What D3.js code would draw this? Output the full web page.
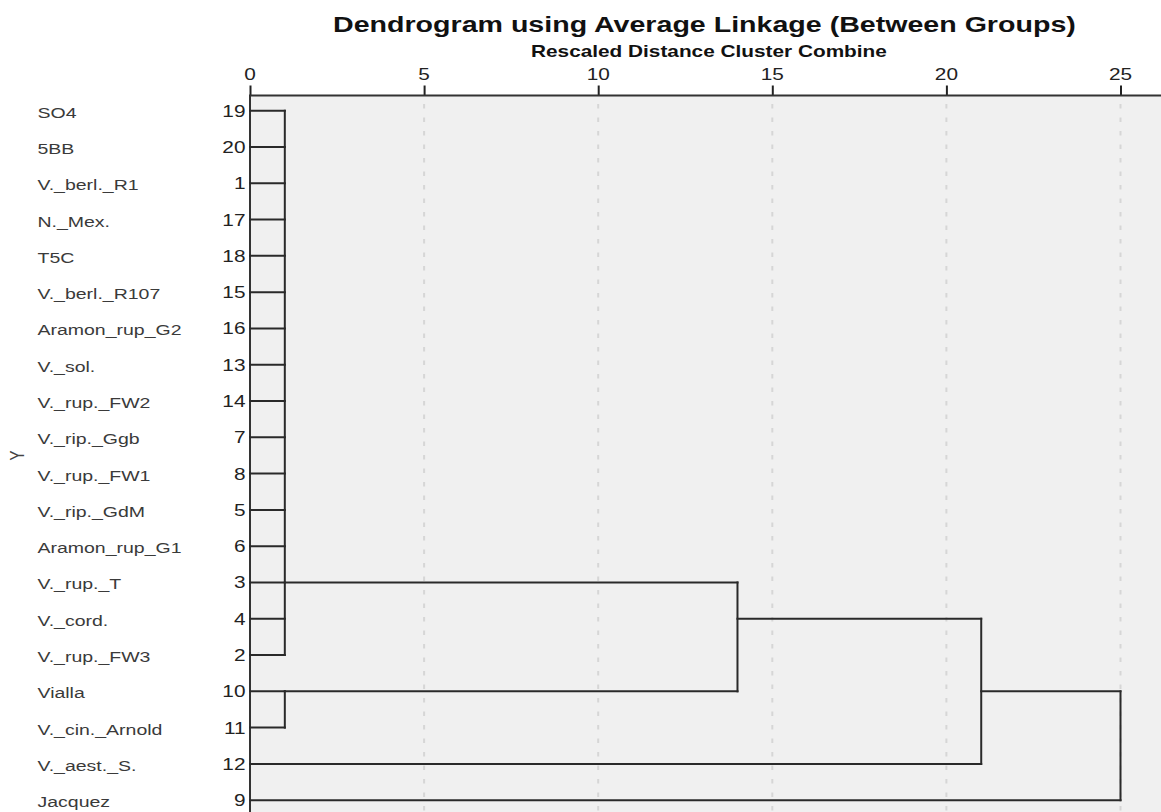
<!DOCTYPE html>
<html>
<head>
<meta charset="utf-8">
<script src="https://cdn.jsdelivr.net/npm/d3@7"></script>
<style>
  html, body { margin: 0; padding: 0; background: #fff; }
  svg { display: block; font-family: "Liberation Sans", Arial, sans-serif; }
</style>
</head>
<body>
<svg id="chart" width="1161" height="812"></svg>
<script>
// ---- data ----
const labels = ["SO4","5BB","V._berl._R1","N._Mex.","T5C","V._berl._R107","Aramon_rup_G2","V._sol.","V._rup._FW2","V._rip._Ggb","V._rup._FW1","V._rip._GdM","Aramon_rup_G1","V._rup._T","V._cord.","V._rup._FW3","Vialla","V._cin._Arnold","V._aest._S.","Jacquez"];
const caseNumbers = [19,20,1,17,18,15,16,13,14,7,8,5,6,3,4,2,10,11,12,9];
const tickValues = [0,5,10,15,20,25];
const clusterNames = ["A","B","C","D","E"];
const clusterChildren = [
  [0,1,2,3,4,5,6,7,8,9,10,11,12,13,14,15],
  [16,17],
  ["A","B"],
  ["C",18],
  ["D",19]
];
const clusterHeights = [1, 1, 14, 21, 25];
const clusterRows = [13, 16, 14, 16, 16];
const titleText = "Dendrogram using Average Linkage (Between Groups)";
const subtitleText = "Rescaled Distance Cluster Combine";
const axisTitle = "Y";

// ---- layout ----
const W = 1161, H = 812;
const plotLeft = 250, plotTop = 95.5;
const SX = 1.3; // horizontal text stretch
const svg = d3.select("#chart");

const x = d3.scaleLinear().domain([0, 25]).range([plotLeft, 1120.5]);
const y = d3.scaleLinear().domain([0, 19]).range([110.7, 800.2]);

function stext(g, tx, ty, str, anchor) {
  return g.append("text")
    .attr("transform", `translate(${tx},${ty}) scale(${SX},1)`)
    .attr("text-anchor", anchor || "start")
    .text(str);
}

// background
svg.append("rect").attr("x", plotLeft).attr("y", plotTop)
  .attr("width", W - plotLeft).attr("height", H - plotTop)
  .attr("fill", "#f0f0f0");

// gridlines
svg.append("g").selectAll("line").data(tickValues.filter(d => d > 0)).join("line")
  .attr("x1", d => x(d)).attr("x2", d => x(d))
  .attr("y1", 104).attr("y2", H)
  .attr("stroke", "#d6d6d6").attr("stroke-width", 2)
  .attr("stroke-dasharray", "4.5,9");

// top axis
const axisG = svg.append("g").attr("transform", `translate(0,${plotTop})`)
  .call(d3.axisTop(x).tickValues(tickValues).tickSize(10).tickFormat(""));
axisG.select(".domain").remove();
axisG.selectAll(".tick line").attr("stroke", "#222").attr("stroke-width", 2);
svg.append("line").attr("x1", plotLeft - 1).attr("x2", W)
  .attr("y1", plotTop).attr("y2", plotTop)
  .attr("stroke", "#333").attr("stroke-width", 2);
svg.append("line").attr("x1", plotLeft).attr("x2", plotLeft)
  .attr("y1", plotTop).attr("y2", H)
  .attr("stroke", "#333").attr("stroke-width", 2);

const tickLabG = svg.append("g").attr("font-size", "16px").attr("fill", "#222");
tickValues.forEach(v => stext(tickLabG, x(v), 79.5, String(v), "middle"));

// title & subtitle
const tG = svg.append("g").attr("font-weight", "bold").attr("fill", "#111");
stext(tG, 333, 32, titleText, "start").attr("font-size", "22px");
stext(tG, 531, 57, subtitleText, "start").attr("font-size", "16px");

// labels and case numbers
const labG = svg.append("g").attr("font-size", "15px").attr("fill", "#3a3a3a");
labels.forEach((l, i) => stext(labG, 37.5, y(i) + 7, l, "start"));
const numG = svg.append("g").attr("font-size", "16px").attr("fill", "#222");
caseNumbers.forEach((n, i) => stext(numG, 245.5, y(i) + 6, String(n), "end"));

// axis title
svg.append("text")
  .attr("transform", `translate(24,${(y(0) + y(19)) / 2}) rotate(-90) scale(1,${SX})`)
  .attr("text-anchor", "middle").attr("font-size", "15px").attr("fill", "#444")
  .text(axisTitle);

// dendrogram links
const nodes = {};
labels.forEach((l, i) => { nodes[i] = { h: 0, row: i }; });
clusterNames.forEach((n, k) => { nodes[n] = { h: clusterHeights[k], row: clusterRows[k] }; });
const linkG = svg.append("g").attr("stroke", "#2a2a2a").attr("stroke-width", 2)
  .attr("fill", "none").attr("stroke-linecap", "square");
clusterNames.forEach((n, k) => {
  const kids = clusterChildren[k].map(c => nodes[c]);
  const hx = x(clusterHeights[k]);
  kids.forEach(c => {
    linkG.append("line")
      .attr("x1", x(c.h)).attr("x2", hx)
      .attr("y1", y(c.row)).attr("y2", y(c.row));
  });
  const rows = kids.map(c => c.row);
  linkG.append("line")
    .attr("x1", hx).attr("x2", hx)
    .attr("y1", y(d3.min(rows))).attr("y2", y(d3.max(rows)));
});
</script>
</body>
</html>
